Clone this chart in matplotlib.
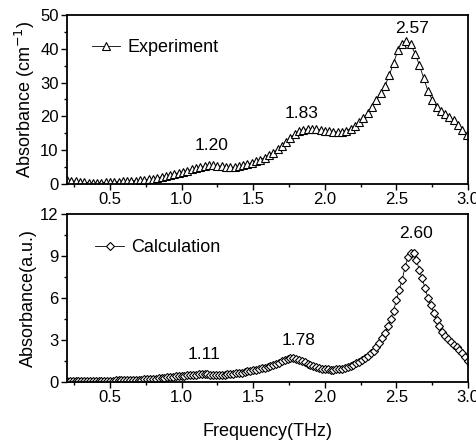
import numpy as np
import matplotlib
matplotlib.use("Agg")
import matplotlib.pyplot as plt
from matplotlib.ticker import MultipleLocator

plt.rcParams['font.family'] = ['Liberation Sans', 'DejaVu Sans']

# Experiment (THz grid step 0.03 from 0.20)
exp_freq = np.round(np.arange(0.20, 3.0, 0.03), 2)
exp_abs = [1.1, 1.0, 0.8, 0.6, 0.5, 0.4, 0.4, 0.4, 0.4, 0.5,
           0.5, 0.6, 0.7, 0.8, 0.8, 0.9, 1.0, 1.1, 1.2, 1.4,
           1.6, 1.8, 2.1, 2.4, 2.7, 3.0, 3.3, 3.6, 3.9, 4.3,
           4.6, 5.0, 5.3, 5.5, 5.5, 5.4, 5.2, 5.0, 4.9, 5.0,
           5.2, 5.5, 5.9, 6.3, 6.7, 7.2, 7.8, 8.5, 9.3, 10.3,
           11.3, 12.5, 13.7, 14.8, 15.6, 16.1, 16.3, 16.3, 16.2, 16.0,
           15.8, 15.6, 15.4, 15.4, 15.5, 15.8, 16.4, 17.3, 18.3, 19.5,
           21.0, 22.8, 24.8, 27.0, 29.0, 32.2, 35.8, 39.5, 41.5, 42.2,
           41.3, 38.6, 35.2, 31.4, 27.5, 24.9, 22.8, 21.6, 20.7, 19.8,
           18.9, 17.5, 16.0, 14.5]

# Calculation (THz grid step 0.02 from 0.20)
calc_freq = np.round(np.arange(0.20, 3.001, 0.02), 2)
calc_abs = [0.05, 0.05, 0.05, 0.06, 0.06, 0.06, 0.06, 0.07, 0.07, 0.07,
            0.08, 0.08, 0.08, 0.09, 0.09, 0.10, 0.10, 0.11, 0.11, 0.12,
            0.12, 0.13, 0.14, 0.15, 0.16, 0.17, 0.18, 0.19, 0.20, 0.22,
            0.23, 0.25, 0.27, 0.29, 0.31, 0.33, 0.35, 0.37, 0.40, 0.42,
            0.44, 0.46, 0.48, 0.50, 0.52, 0.53, 0.54, 0.54, 0.54, 0.54,
            0.53, 0.53, 0.52, 0.52, 0.52, 0.53, 0.54, 0.56, 0.58, 0.61,
            0.64, 0.68, 0.72, 0.76, 0.80, 0.84, 0.88, 0.93, 0.98, 1.03,
            1.09, 1.15, 1.22, 1.30, 1.38, 1.47, 1.56, 1.64, 1.70, 1.72,
            1.68, 1.60, 1.50, 1.40, 1.30, 1.21, 1.13, 1.06, 1.00, 0.95,
            0.92, 0.90, 0.89, 0.89, 0.90, 0.92, 0.95, 0.99, 1.04, 1.11,
            1.20, 1.33, 1.45, 1.55, 1.70, 1.85, 2.05, 2.25, 2.50, 2.80,
            3.15, 3.50, 4.00, 4.50, 5.10, 5.85, 6.60, 7.30, 8.20, 8.90,
            9.25, 9.20, 8.70, 8.00, 7.40, 6.70, 6.00, 5.50, 4.90, 4.40,
            4.00, 3.60, 3.30, 3.10, 2.85, 2.65, 2.50, 2.30, 2.05, 1.80,
            1.50]

exp_peaks = [1.20, 1.83, 2.57]
exp_label_x = [1.21, 1.84, 2.61]
exp_label_y = [11.5, 21.0, 45.9]
calc_peaks = [1.11, 1.78, 2.60]
calc_label_x = [1.16, 1.82, 2.64]
calc_label_y = [2.0, 3.0, 10.6]

fig = plt.figure(figsize=(4.77, 4.42), dpi=100)
ax1 = fig.add_axes([0.1405, 0.5837, 0.8407, 0.3824])
ax2 = fig.add_axes([0.1405, 0.1357, 0.8407, 0.3801])

for ax in (ax1, ax2):
    for s in ax.spines.values():
        s.set_linewidth(1.3)
    ax.set_xlim(0.2, 3.0)
    ax.xaxis.set_major_locator(MultipleLocator(0.5))
    ax.xaxis.set_minor_locator(MultipleLocator(0.25))
    ax.tick_params(which='both', direction='out', top=False, right=False,
                   labelsize=12, width=1.0)
    ax.tick_params(which='major', length=4, pad=2)
    ax.tick_params(which='minor', length=2.5)

ax1.plot(exp_freq, exp_abs, '-', color='black', lw=0.6,
         marker='^', markersize=5.5, markerfacecolor='white',
         markeredgecolor='black', markeredgewidth=0.8, label='Experiment')
ax1.set_ylim(0, 50)
ax1.yaxis.set_major_locator(MultipleLocator(10))
ax1.yaxis.set_minor_locator(MultipleLocator(5))
ax1.set_ylabel('Absorbance (cm$^{-1}$)', fontsize=13, labelpad=2)
for lab, xp, yp in zip(exp_peaks, exp_label_x, exp_label_y):
    ax1.text(xp, yp, f'{lab:.2f}', ha='center', va='center', fontsize=12.5)

ax2.plot(calc_freq, calc_abs, '-', color='black', lw=0.6,
         marker='D', markersize=4.5, markerfacecolor='white',
         markeredgecolor='black', markeredgewidth=0.8, label='Calculation')
ax2.set_ylim(0, 12)
ax2.yaxis.set_major_locator(MultipleLocator(3))
ax2.yaxis.set_minor_locator(MultipleLocator(1.5))
ax2.set_ylabel('Absorbance(a.u.)', fontsize=13, labelpad=2)
ax2.set_xlabel('Frequency(THz)', fontsize=13, labelpad=13)
for lab, xp, yp in zip(calc_peaks, calc_label_x, calc_label_y):
    ax2.text(xp, yp, f'{lab:.2f}', ha='center', va='center', fontsize=12.5)

ax1.legend(loc='center left', frameon=False, fontsize=13,
           handlelength=1.55, handletextpad=0.4,
           bbox_to_anchor=(0.045, 0.805), borderaxespad=0)
ax2.legend(loc='center left', frameon=False, fontsize=13,
           handlelength=1.6, handletextpad=0.4,
           bbox_to_anchor=(0.052, 0.798), borderaxespad=0)

fig.savefig('out.png', dpi=100)
